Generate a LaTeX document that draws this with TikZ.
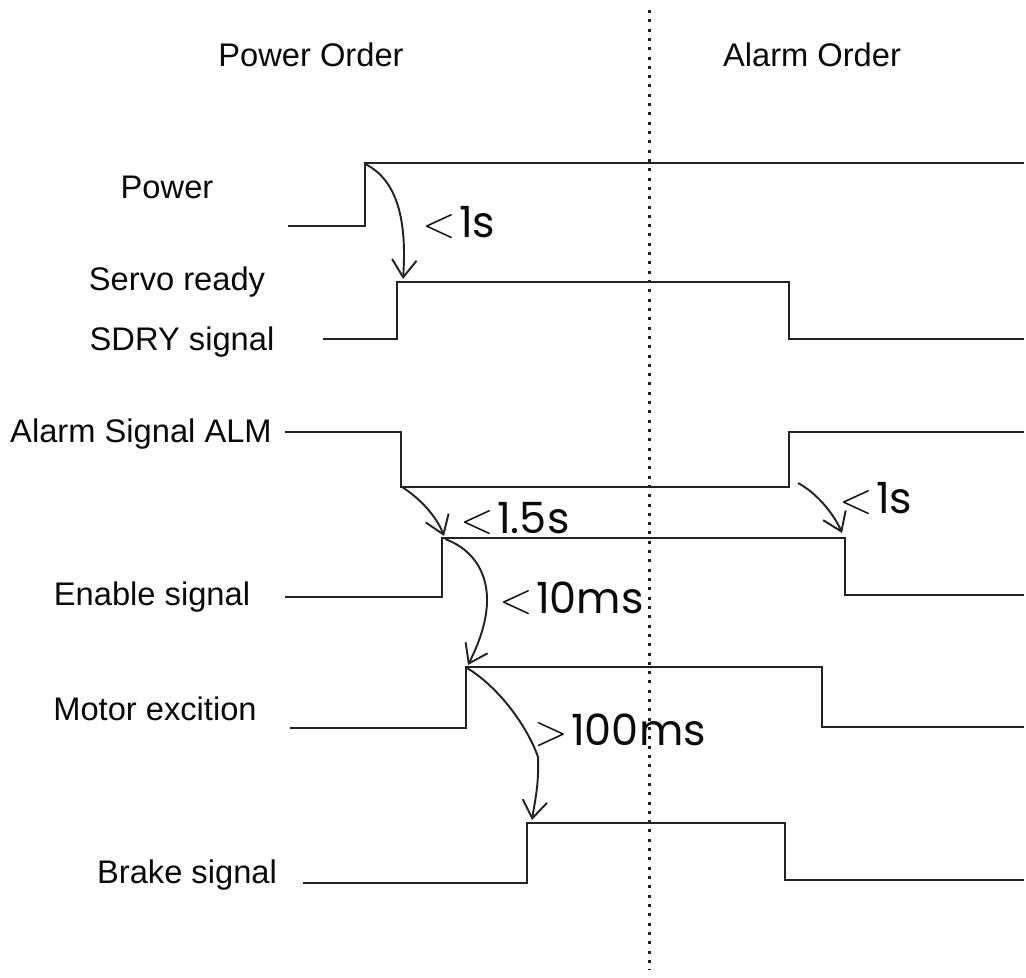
\documentclass[tikz,border=0pt]{standalone}
\usepackage{fontspec}
\setmainfont{Liberation Sans}
\newfontfamily\timefont{Poppins}
\usepackage{xcolor}
\usepackage{tikz}
\usetikzlibrary{arrows.meta,positioning}
\definecolor{wavInk}{RGB}{34,34,34}
\definecolor{wavText}{RGB}{10,10,10}
\tikzset{
  sigline/.style={draw=wavInk,line width=1.25pt,line join=miter},
  timearrow/.style={-{Straight Barb[length=10pt,width=14pt,line width=1.1pt]},draw=wavInk,line width=1.1pt},
  divider/.style={draw=wavInk,line width=1.7pt,dash pattern=on 1.7pt off 3.6pt},
  siglabel/.style={font=\fontsize{18.6}{22}\selectfont,text=wavText,inner sep=0pt,anchor=base},
  timelabel/.style={font=\timefont\fontsize{24.5}{30}\selectfont,text=wavText,inner sep=0pt,anchor=base west},
}
% thin relation sign in front of a time limit
\newcommand{\limsign}[1]{{\fontsize{29}{30}\selectfont$#1$}\hspace{2pt}}

\begin{document}
\begin{tikzpicture}[x=0.02cm,y=-0.02cm]
% Canvas: 1026 x 977 px, y counted downward.
\useasboundingbox (0,0) rectangle (1026,977);

% Divider between the two sequences.
\coordinate (divTop) at (649,10);
\coordinate (divBot) at (649,970);
\draw[divider] (divTop) -- (divBot);

\node[siglabel] (tPower) at (311,66) {Power Order};
\node[siglabel] (tAlarm) at (812,66) {Alarm Order};

% Signal names.
\node[siglabel] (lPower) at (167,198) {Power};
\node[siglabel] (lServo) at (177,290) {Servo ready};
\node[siglabel] (lSdry)  at (182,350) {SDRY signal};
\node[siglabel] (lAlm)   at (141,442) {Alarm Signal ALM};
\node[siglabel] (lEnab)  at (152,605) {Enable signal};
\node[siglabel] (lMotor) at (155,720) {Motor excition};
\node[siglabel] (lBrake) at (187,883) {Brake signal};

% Waveforms.
\draw[sigline] (288,226) -- (365,226) -- (365,163) -- (1024,163);
\draw[sigline] (323,339) -- (397,339) -- (397,282) -- (789,282) -- (789,339) -- (1024,339);
\draw[sigline] (285,432) -- (401,432) -- (401,487) -- (789,487) -- (789,432) -- (1024,432);
\draw[sigline] (285,597) -- (442,597) -- (442,538) -- (845,538) -- (845,595) -- (1024,595);
\draw[sigline] (290,728) -- (466,728) -- (466,667) -- (822,667) -- (822,727) -- (1024,727);
\draw[sigline] (303,883) -- (527,883) -- (527,823) -- (785,823) -- (785,880) -- (1024,880);

% Edge corners used by the timing arrows.
\coordinate (pwrRise)   at (365,164);
\coordinate (sdryRise)  at (403,279);
\coordinate (almFall)   at (402,487);
\coordinate (enabRise)  at (444,536);
\coordinate (enabTop)   at (445,539);
\coordinate (motorRise) at (468,665);
\coordinate (motorTop)  at (467,668);
\coordinate (brakeRise) at (532,820);
\coordinate (almRise)   at (798,483);
\coordinate (enabFall)  at (842,533);

\draw[timearrow] (pwrRise) .. controls (398,180) and (407,222) .. (sdryRise);
\draw[timearrow] (almFall) .. controls (418,497) and (436,515) .. (enabRise);
\draw[timearrow] (enabTop) .. controls (475,550) and (488,575) .. (487,603)
                           .. controls (486,625) and (478,645) .. (motorRise);
\draw[timearrow] (motorTop) .. controls (500,688) and (528,728) .. (538,757)
                            .. controls (539,785) and (535,800) .. (brakeRise);
\draw[timearrow] (almRise) .. controls (815,492) and (833,512) .. (enabFall);

% Timing limits.
\node[timelabel] (d1) at (422,237) {\limsign{<}1s};
\node[timelabel] (d2) at (460,533) {\limsign{<}1.5s};
\node[timelabel] (d3) at (499,613) {\limsign{<}10ms};
\node[timelabel] (d4) at (534,745) {\limsign{>}100ms};
\node[timelabel] (d5) at (839,513) {\limsign{<}1s};
\end{tikzpicture}
\end{document}
